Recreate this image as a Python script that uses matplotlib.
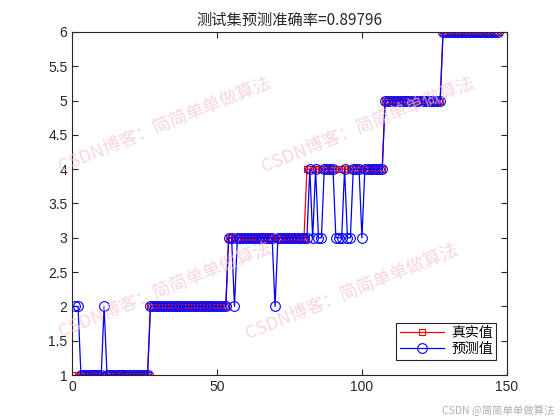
import numpy as np
import matplotlib
matplotlib.use('Agg')
import matplotlib.pyplot as plt

plt.rcParams['font.family'] = ['Liberation Sans', 'Noto Sans CJK SC', 'DejaVu Sans']

# ---- data ----
class_sizes = [26, 27, 27, 27, 20, 20]          # samples per class 1..6
true_labels = np.repeat(np.arange(1, 7), class_sizes)

# misclassified samples: index (1-based) -> predicted class
wrong = {1: 2, 2: 2, 11: 2,
         56: 2, 70: 2,
         81: 3, 83: 3, 85: 3, 86: 3, 91: 3, 92: 3, 93: 3, 95: 3, 96: 3, 100: 3}

pred_labels = true_labels.copy()
for k, v in wrong.items():
    pred_labels[k - 1] = v
idx = np.arange(1, len(true_labels) + 1)
acc = np.mean(pred_labels == true_labels)

# ---- plot ----
fig = plt.figure(figsize=(5.6, 4.2), dpi=100)
ax = fig.add_axes([0.129, 0.107, 0.776, 0.817])

ax.plot(idx, true_labels, '-s', color='#ff0000', lw=0.9, ms=5,
        mfc='none', mew=0.8, label='真实值')
ax.plot(idx, pred_labels, '-o', color='#0000ff', lw=0.9, ms=7,
        mfc='none', mew=0.8, label='预测值')

ax.set_xlim(0, 150)
ax.set_ylim(1, 6)
ax.set_xticks([0, 50, 100, 150])
ax.set_yticks(np.arange(1, 6.01, 0.5))
ax.set_yticklabels(['1', '1.5', '2', '2.5', '3', '3.5', '4', '4.5', '5', '5.5', '6'])
ax.tick_params(direction='in', length=4, labelsize=10, top=True, right=True,
               labeltop=False, labelright=False, colors='#262626')
for s in ax.spines.values():
    s.set_color('#262626')
    s.set_linewidth(0.8)

ax.set_title('测试集预测准确率=%.5f' % acc, fontsize=11, color='#262626',
             family=['Noto Sans CJK SC', 'DejaVu Sans'], pad=5)

leg = ax.legend(loc='lower right', bbox_to_anchor=(0.992, 0.025),
                prop={'family': 'Noto Sans CJK SC', 'size': 10},
                fancybox=False, edgecolor='#262626', borderpad=0.25,
                labelspacing=0.15, handlelength=3.2, handletextpad=0.5,
                framealpha=1)
leg.get_frame().set_linewidth(0.8)

# ---- watermarks ----
wm = 'CSDN博客：简简单单做算法'
for (x, y) in [(165, 125), (368, 125), (165, 290), (352, 292)]:
    fig.text(x / 560, 1 - y / 420, wm, rotation=22, ha='center', va='center',
             fontsize=13, color='#f7c4d2', alpha=0.7,
             family=['Noto Sans CJK SC', 'DejaVu Sans'])
fig.text(0.99, 0.01, 'CSDN @简简单单做算法', ha='right', va='bottom', fontsize=7.5,
         color='#b0b0b0', family=['Noto Sans CJK SC', 'DejaVu Sans'])

fig.savefig('out.png', dpi=100, facecolor='white')
